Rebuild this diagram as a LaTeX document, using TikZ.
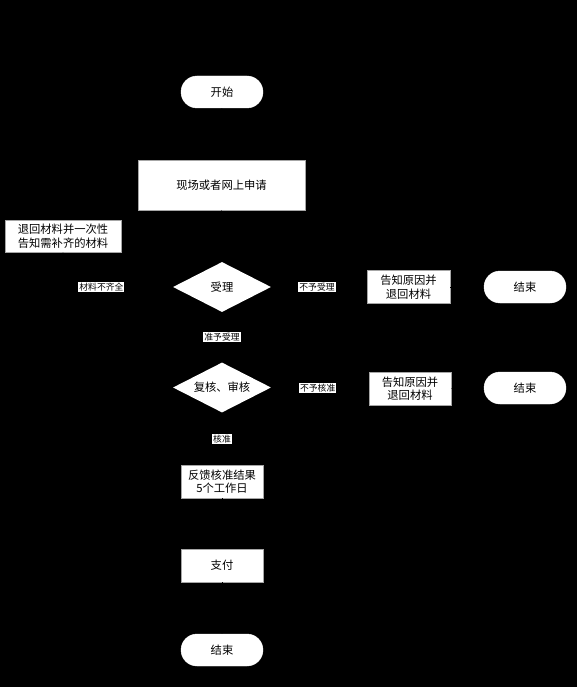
\documentclass[tikz,border=0pt]{standalone}
\usepackage{fontspec}
\newfontfamily\cjk{Noto Sans CJK SC}
\usetikzlibrary{shapes.geometric,arrows.meta}
\begin{document}
\begin{tikzpicture}[x=1pt,y=-1pt,
  box/.style={draw=gray!70,fill=white,line width=0.6pt,minimum width=#1,inner sep=1pt,font=\cjk\fontsize{11.3}{13.5}\selectfont,align=center},
  pill/.style={draw=white,fill=white,rounded corners=16pt,minimum width=82pt,minimum height=32pt,inner sep=1pt,font=\cjk\fontsize{11.3}{13}\selectfont},
  dia/.style={diamond,aspect=2,fill=white,minimum width=98pt,minimum height=50pt,inner sep=0pt,font=\cjk\fontsize{11.3}{13}\selectfont},
  lab/.style={fill=white,inner sep=1pt,font=\cjk\fontsize{8.8}{10}\selectfont},
  conn/.style={draw=black,line width=0.6pt,-{Stealth[length=5pt]}}]
\fill[black] (0,0) rectangle (577,687);
\useasboundingbox (0,0) rectangle (577,687);
\node[pill] (start) at (222,92) {开始};
\node[box=167pt,minimum height=50pt] (apply) at (221.5,185) {现场或者网上申请};
\node[box=116pt,minimum height=32pt] (back) at (63,236) {退回材料并一次性\\告知需补齐的材料};
\node[dia] (accept) at (222,287) {受理};
\node[box=83pt,minimum height=33pt] (rej1) at (408.5,287) {告知原因并\\退回材料};
\node[pill] (end1) at (525,287) {结束};
\node[dia] (review) at (222,387.5) {复核、审核};
\node[box=82pt,minimum height=33pt] (rej2) at (410,388.5) {告知原因并\\退回材料};
\node[pill] (end2) at (525,388) {结束};
\node[box=82pt,minimum height=33pt] (feed) at (222,481.5) {反馈核准结果\\5个工作日};
\node[box=82pt,minimum height=33pt] (pay) at (222,565.5) {支付};
\node[pill] (end3) at (222,650) {结束};
\draw[conn] (start) -- (apply);
\draw[conn] (apply) -- (accept);
\draw[conn] (accept) -- node[lab,pos=0.65] (l1) {材料不齐全} (accept.west -| back) -- (back);
\draw[conn] (back) |- (apply.west);
\draw[conn] (accept) -- node[lab,pos=0.48] (l2) {不予受理} (rej1);
\draw[conn] (rej1) -- (end1);
\draw[conn] (accept) -- node[lab] (l3) {准予受理} (review);
\draw[conn] (review) -- node[lab,pos=0.48] (l4) {不予核准} (rej2);
\draw[conn] (rej2) -- (end2);
\draw[conn] (review) -- node[lab] (l5) {核准} (feed);
\draw[conn] (feed) -- (pay);
\draw[conn] (pay) -- (end3);
\end{tikzpicture}
\end{document}
